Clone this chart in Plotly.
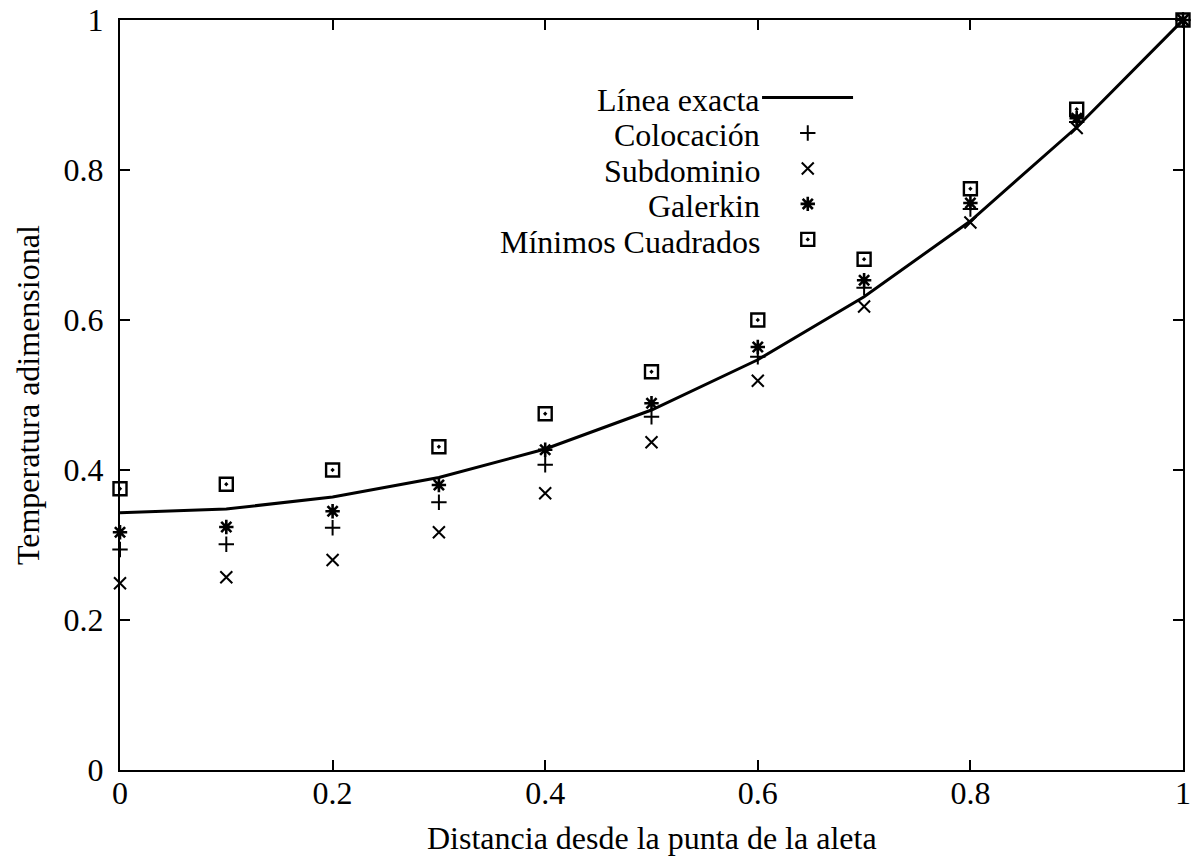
import plotly.graph_objects as go

x_vals = [0.0, 0.1, 0.2, 0.3, 0.4, 0.5, 0.6, 0.7, 0.8, 0.9, 1.0]
exacta = [0.343, 0.348, 0.364, 0.390, 0.428, 0.480, 0.547, 0.631, 0.732, 0.857, 1.0]
colocacion = [0.294, 0.301, 0.323, 0.357, 0.407, 0.471, 0.551, 0.643, 0.748, 0.864, 1.0]
subdominio = [0.249, 0.257, 0.280, 0.317, 0.369, 0.437, 0.519, 0.618, 0.730, 0.856, 1.0]
galerkin = [0.317, 0.324, 0.345, 0.380, 0.427, 0.489, 0.564, 0.653, 0.756, 0.869, 1.0]
minimos = [0.375, 0.381, 0.400, 0.431, 0.475, 0.531, 0.600, 0.681, 0.775, 0.881, 1.0]

tick_vals = [0, 0.2, 0.4, 0.6, 0.8, 1]
tick_text = ["0", "0.2", "0.4", "0.6", "0.8", "1"]

legend_labels = ["Línea exacta", "Colocación", "Subdominio", "Galerkin", "Mínimos Cuadrados"]

FONT = "Liberation Serif, Times New Roman, serif"
FS = 32

marker_styles = [
    dict(symbol="cross-thin-open", size=11, line=dict(width=2, color="black"), color="black"),
    dict(symbol="x-thin-open", size=12, line=dict(width=2, color="black"), color="black"),
    dict(symbol="asterisk-open", size=12, line=dict(width=2.6, color="black"), color="black"),
    dict(symbol="square-open-dot", size=13, line=dict(width=2.4, color="black"), color="black"),
]
series = [colocacion, subdominio, galerkin, minimos]

fig = go.Figure()
fig.add_trace(go.Scatter(x=x_vals, y=exacta, mode="lines", line=dict(color="black", width=3),
                         name=legend_labels[0], showlegend=False, cliponaxis=False))
for lab, ys, ms in zip(legend_labels[1:], series, marker_styles):
    fig.add_trace(go.Scatter(x=x_vals, y=ys, mode="markers", marker=ms, name=lab,
                             showlegend=False, cliponaxis=False))

# gnuplot-style key: right-aligned text, sample to the right
key_text_x = 0.604
key_sym_x = 0.647
key_y0 = 0.8967
key_dy = 0.0473
annotations = []
for i, lab in enumerate(legend_labels):
    yy = key_y0 - i * key_dy
    annotations.append(dict(x=key_text_x, y=yy - 0.003, xref="paper", yref="paper", text=lab,
                            showarrow=False, xanchor="right", yanchor="middle",
                            font=dict(family=FONT, size=FS, color="black")))
key_sym_y = [key_y0 - (i + 1) * key_dy for i in range(4)]
for i, ms in enumerate(marker_styles):
    fig.add_trace(go.Scatter(x=[key_sym_x], y=[key_sym_y[i]], xaxis="x2", yaxis="y2",
                             mode="markers", marker=ms, showlegend=False, hoverinfo="skip",
                             cliponaxis=False))

shapes = [dict(type="line", xref="paper", yref="paper", x0=0.604, x1=0.6896,
               y0=key_y0, y1=key_y0, line=dict(color="black", width=3))]

annotations.append(dict(x=-0.0865, y=0.5, xref="paper", yref="paper",
                        text="Temperatura adimensional", textangle=-90, showarrow=False,
                        xanchor="center", yanchor="middle",
                        font=dict(family=FONT, size=FS, color="black")))
annotations.append(dict(x=0.5, y=-0.0907, xref="paper", yref="paper",
                        text="Distancia desde la punta de la aleta", showarrow=False,
                        xanchor="center", yanchor="middle",
                        font=dict(family=FONT, size=FS, color="black")))

axis_common = dict(range=[0, 1], tickvals=tick_vals, ticktext=tick_text, ticks="inside",
                   ticklen=10, tickwidth=1.5, tickcolor="black", showline=True, linewidth=2,
                   linecolor="black", mirror="ticks", showgrid=False, zeroline=False,
                   automargin=False,
                   tickfont=dict(family=FONT, size=FS, color="black"))

fig.update_layout(
    width=1192, height=867,
    margin=dict(l=120, r=9, t=20, b=97, autoexpand=False),
    paper_bgcolor="white", plot_bgcolor="white",
    xaxis=dict(**axis_common, ticklabelstandoff=-6),
    yaxis=dict(**axis_common, ticklabelstandoff=8),
    xaxis2=dict(overlaying="x", range=[0, 1], visible=False),
    yaxis2=dict(overlaying="y", range=[0, 1], visible=False),
    annotations=annotations, shapes=shapes,
    showlegend=False,
)

fig.write_html("out.html", config={"displayModeBar": False},
               post_script="document.body.style.margin='0';document.body.style.overflow='hidden';")
